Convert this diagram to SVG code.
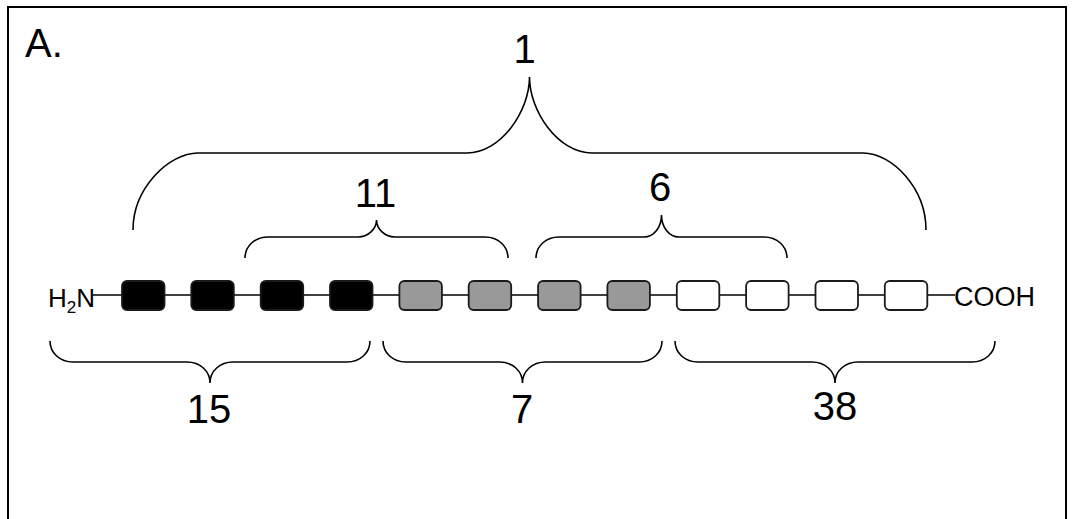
<svg xmlns="http://www.w3.org/2000/svg" width="1074" height="519" viewBox="0 0 1074 519">
<style>
.t{font-family:"Liberation Sans",Arial,sans-serif;fill:#000}
.num{font-size:40px;text-anchor:middle}
.br{fill:none;stroke:#000;stroke-width:1.6}
.dom{stroke:#1a1a1a;stroke-width:1.8}
.blk{fill:#000}
.gry{fill:#999}
.wht{fill:#fff}
</style>
<rect width="1074" height="519" fill="#fff"/>
<rect x="8" y="7" width="1058" height="530" fill="none" stroke="#000" stroke-width="2"/>
<text class="t" x="25" y="57" font-size="40">A.</text>
<g id="connectors">
<line x1="93" y1="295" x2="955" y2="295" stroke="#000" stroke-width="1.6"/>
</g>
<g id="labels">
<text class="t" x="48" y="307" font-size="26">H<tspan font-size="17" dy="6">2</tspan><tspan dy="-6">N</tspan></text>
<text class="t" x="954" y="306" font-size="27">COOH</text>
</g>
<g id="domains">
<rect id="d1" class="dom blk" x="122" y="281" width="42.5" height="29" rx="5"/>
<rect id="d2" class="dom blk" x="191.3" y="281" width="42.5" height="29" rx="5"/>
<rect id="d3" class="dom blk" x="260.7" y="281" width="42.5" height="29" rx="5"/>
<rect id="d4" class="dom blk" x="330" y="281" width="42.5" height="29" rx="5"/>
<rect id="d5" class="dom gry" x="399.4" y="281" width="42.5" height="29" rx="5"/>
<rect id="d6" class="dom gry" x="468.7" y="281" width="42.5" height="29" rx="5"/>
<rect id="d7" class="dom gry" x="538.1" y="281" width="42.5" height="29" rx="5"/>
<rect id="d8" class="dom gry" x="607.4" y="281" width="42.5" height="29" rx="5"/>
<rect id="d9" class="dom wht" x="676.8" y="281" width="42.5" height="29" rx="5"/>
<rect id="d10" class="dom wht" x="746.1" y="281" width="42.5" height="29" rx="5"/>
<rect id="d11" class="dom wht" x="815.5" y="281" width="42.5" height="29" rx="5"/>
<rect id="d12" class="dom wht" x="884.8" y="281" width="42.5" height="29" rx="5"/>
</g>
<g id="brace1">
<path class="br" d="M133,230 C133,188 169,153 198,153 H467 C501,153 529.5,111 529.5,77 C529.5,111 558,153 592,153 H863 C892,153 926,188 926,230"/>
<text class="t num" x="524.5" y="63">1</text>
</g>
<g id="brace11">
<path class="br" d="M245,258 C245,246 255,237 268,237 H358 C368,237 376.5,229 376.5,220 C376.5,229 385,237 395,237 H485 C498,237 508,246 508,258"/>
<text class="t num" x="375.5" y="207">11</text>
</g>
<g id="brace6">
<path class="br" d="M536,258 C536,246 546,237 559,237 H644 C654,237 661.5,227 661.5,215 C661.5,227 669,237 679,237 H764 C777,237 787,246 787,258"/>
<text class="t num" x="660" y="201">6</text>
</g>
<g id="brace15">
<path class="br" d="M50,341 C50,353 60,362 73,362 H187 C200,362 210,371 210,383 C210,371 220,362 233,362 H347 C360,362 370,353 370,341"/>
<text class="t num" x="209" y="423">15</text>
</g>
<g id="brace7">
<path class="br" d="M383,341 C383,353 393,362 406,362 H499.5 C512.5,362 522.5,371 522.5,383 C522.5,371 532.5,362 545.5,362 H639 C652,362 662,353 662,341"/>
<text class="t num" x="522" y="423">7</text>
</g>
<g id="brace38">
<path class="br" d="M675,341 C675,353 685,362 698,362 H812 C825,362 835,371 835,383 C835,371 845,362 858,362 H972 C985,362 995,353 995,341"/>
<text class="t num" x="835" y="420">38</text>
</g>
</svg>
